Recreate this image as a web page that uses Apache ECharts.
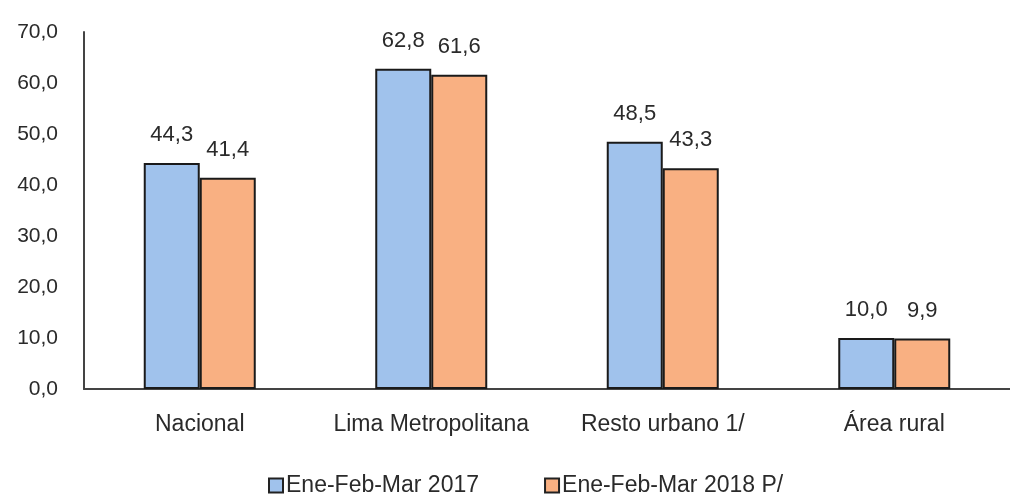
<!DOCTYPE html>
<html><head><meta charset="utf-8">
<script src="https://cdn.jsdelivr.net/npm/echarts@6/dist/echarts.min.js"></script>
<style>html,body{margin:0;padding:0;background:#fff}#c{width:1010px;height:499px}</style>
</head><body><div id="c"></div>
<script>
const categories = ['Nacional', 'Lima Metropolitana', 'Resto urbano 1/', 'Área rural'];
const series2017 = [44.3, 62.8, 48.5, 10.0];
const series2018 = [41.4, 61.6, 43.3, 9.9];
const seriesNames = ['Ene-Feb-Mar 2017', 'Ene-Feb-Mar 2018 P/'];
const fmt = v => v.toFixed(1).replace('.', ',');
const chart = echarts.init(document.getElementById('c'));
const font = 'Liberation Sans';
const txt = '#2a2a2a';
const lbl = {show: true, position: 'top', distance: 17, fontFamily: font, fontSize: 22, color: txt,
  formatter: p => fmt(p.value)};
chart.setOption({
  animation: false,
  grid: {left: 84, top: 32, width: 936, height: 357},
  legend: {top: 469, left: 263, itemGap: 65, itemWidth: 14, itemHeight: 14,
    textStyle: {fontFamily: font, fontSize: 23, color: txt, padding: [0, 0, 0, -2]},
    itemStyle: {borderColor: '#222', borderWidth: 2},
    data: seriesNames.map(n => ({name: n, icon: 'rect'}))},
  xAxis: {type: 'category', data: categories,
    axisLine: {lineStyle: {color: '#444', width: 2}}, axisTick: {show: false},
    axisLabel: {interval: 0, margin: 24, fontFamily: font, fontSize: 23, color: txt}},
  yAxis: {type: 'value', min: 0, max: 70, interval: 10,
    axisLine: {show: true, lineStyle: {color: '#444', width: 2}}, axisTick: {show: false},
    splitLine: {show: false},
    axisLabel: {margin: 26, fontFamily: font, fontSize: 21, color: txt, formatter: v => fmt(v)}},
  series: [
    {name: seriesNames[0], type: 'bar', data: series2017, barWidth: 56, barGap: '0%',
     itemStyle: {color: '#a0c2ec', borderColor: '#1a1a1a', borderWidth: 2}, label: lbl},
    {name: seriesNames[1], type: 'bar', data: series2018, barWidth: 56,
     itemStyle: {color: '#f9b082', borderColor: '#1a1a1a', borderWidth: 2}, label: lbl}
  ]
});
</script></body></html>
